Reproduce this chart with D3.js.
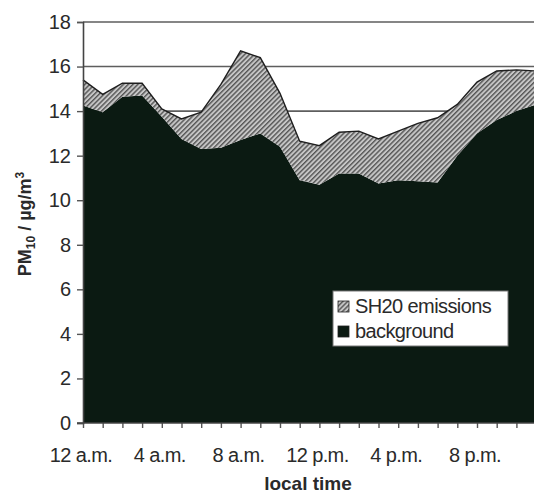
<!DOCTYPE html>
<html lang="en">
<head>
    <meta charset="UTF-8">
    <title>PM10 diurnal cycle</title>
    <script src="https://d3js.org/d3.v7.min.js"></script>
    <style>
        body { margin: 0; background: #fff; }
        text { font-family: "Liberation Sans", Arial, sans-serif; fill: #2a2a2a; }
    </style>
</head>
<body>
    <div id="chart"></div>
    <script>
        // hourly values, 0 = 12 a.m.
        const hours = d3.range(24);
        const background = [14.25, 13.95, 14.65, 14.7, 13.75, 12.75, 12.3, 12.35, 12.7, 13.0, 12.4, 10.9,
                            10.7, 11.2, 11.2, 10.75, 10.9, 10.85, 10.8, 12.0, 13.0, 13.6, 14.0, 14.3];
        const emissions = [1.15, 0.8, 0.6, 0.55, 0.35, 0.9, 1.65, 2.85, 4.0, 3.4, 2.4, 1.75,
                           1.75, 1.85, 1.9, 2.0, 2.2, 2.6, 2.9, 2.3, 2.3, 2.2, 1.85, 1.5];
        const xTickLabels = ["12 a.m.", "4 a.m.", "8 a.m.", "12 p.m.", "4 p.m.", "8 p.m."];
        const yTicks = d3.range(0, 19, 2);
        const seriesNames = ["SH20 emissions", "background"];

        const width = 534, height = 495;
        const x0 = 83, yTop = 22, yBottom = 423;

        const svg = d3.select("#chart").append("svg")
            .attr("width", width)
            .attr("height", height);

        const defs = svg.append("defs");
        const pat = defs.append("pattern")
            .attr("id", "hatch")
            .attr("patternUnits", "userSpaceOnUse")
            .attr("width", 3.4).attr("height", 3.4)
            .attr("patternTransform", "rotate(45)");
        pat.append("rect").attr("width", 3.4).attr("height", 3.4).attr("fill", "#c6c6c6");
        pat.append("rect").attr("width", 1.4).attr("height", 3.4).attr("fill", "#555");

        const x = d3.scaleLinear().domain([0, 23]).range([x0, x0 + 23 * 19.7]);
        const y = d3.scaleLinear().domain([0, 18]).range([yBottom, yTop]);

        // gridlines
        svg.append("g")
            .selectAll("line")
            .data(yTicks.filter(d => d > 0))
            .join("line")
            .attr("x1", x0).attr("x2", width)
            .attr("y1", d => y(d)).attr("y2", d => y(d))
            .attr("stroke", "#5e5e5e")
            .attr("stroke-width", 1.6);

        // stacked areas
        const rows = hours.map(h => ({ h: h, background: background[h], emissions: emissions[h] }));
        const stack = d3.stack().keys(["background", "emissions"]);
        const layers = stack(rows);

        const area = d3.area()
            .x(d => x(d.data.h))
            .y0(d => y(d[0]))
            .y1(d => y(d[1]));

        svg.append("path")
            .datum(layers[0])
            .attr("d", area)
            .attr("fill", "#0b1a12");

        svg.append("path")
            .datum(layers[1])
            .attr("d", area)
            .attr("fill", "url(#hatch)");

        svg.append("path")
            .datum(layers[1])
            .attr("d", d3.line().x(d => x(d.data.h)).y(d => y(d[1])))
            .attr("fill", "none")
            .attr("stroke", "#1e1e1e")
            .attr("stroke-width", 1.4);

        // y axis
        const yAxis = svg.append("g")
            .attr("transform", `translate(${x0},0)`)
            .call(d3.axisLeft(y).tickValues(yTicks).tickSize(6).tickPadding(6));
        yAxis.select(".domain").attr("stroke", "#444").attr("stroke-width", 1.6);
        yAxis.selectAll(".tick line").attr("stroke", "#555").attr("stroke-width", 1.4);
        yAxis.selectAll("text")
            .attr("font-size", 20)
            .attr("fill", "#2a2a2a")
            .attr("font-family", "Liberation Sans, Arial, sans-serif");

        // x axis
        const xAxis = svg.append("g")
            .attr("transform", `translate(0,${yBottom})`)
            .call(d3.axisBottom(x).tickValues(hours).tickSize(5).tickFormat(""));
        xAxis.select(".domain").remove();
        xAxis.selectAll(".tick line").attr("stroke", "#555").attr("stroke-width", 1.4);
        svg.append("line")
            .attr("x1", x0 - 6).attr("x2", width)
            .attr("y1", yBottom).attr("y2", yBottom)
            .attr("stroke", "#444").attr("stroke-width", 1.6);

        svg.append("g")
            .selectAll("text")
            .data(xTickLabels)
            .join("text")
            .attr("x", (d, i) => x(i * 4) - 2)
            .attr("y", 462)
            .attr("text-anchor", "middle")
            .attr("font-size", 20)
            .attr("letter-spacing", -0.6)
            .text(d => d);

        // axis titles
        svg.append("text")
            .attr("x", 308).attr("y", 490)
            .attr("text-anchor", "middle")
            .attr("font-size", 19)
            .attr("font-weight", "bold")
            .text("local time");

        const yt = svg.append("text")
            .attr("transform", "translate(31,224) rotate(-90)")
            .attr("text-anchor", "middle")
            .attr("font-size", 18)
            .attr("font-weight", "bold");
        yt.append("tspan").text("PM");
        yt.append("tspan").attr("font-size", 12).attr("dy", 4).text("10");
        yt.append("tspan").attr("dy", -4).text(" / µg/m");
        yt.append("tspan").attr("font-size", 12).attr("dy", -7).text("3");

        // legend
        const lg = svg.append("g").attr("transform", "translate(333,291)");
        lg.append("rect")
            .attr("width", 175).attr("height", 55)
            .attr("fill", "#fff")
            .attr("stroke", "#777").attr("stroke-width", 1);
        const fills = ["url(#hatch)", "#0b1a12"];
        seriesNames.forEach((name, i) => {
            lg.append("rect")
                .attr("x", 5).attr("y", 10 + i * 25)
                .attr("width", 11).attr("height", 11)
                .attr("fill", fills[i])
                .attr("stroke", "#222").attr("stroke-width", 0.8);
            lg.append("text")
                .attr("x", 22).attr("y", 22 + i * 25)
                .attr("font-size", 20)
                .attr("letter-spacing", -0.6)
                .text(name);
        });
    </script>
</body>
</html>
